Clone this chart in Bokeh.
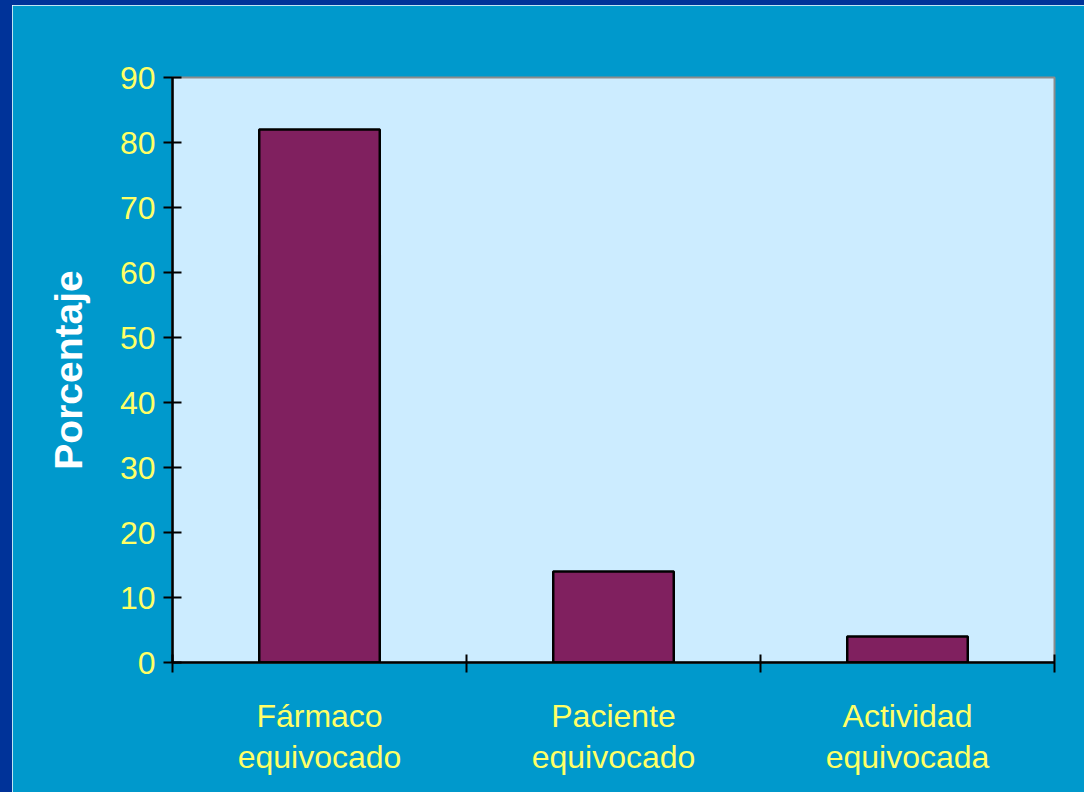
from bokeh.plotting import figure
from bokeh.models import Range1d, FixedTicker, Spacer, ColumnDataSource
from bokeh.layouts import row, column
from bokeh.embed import file_html
from bokeh.resources import INLINE

# Data
categories = ["Fármaco\nequivocado", "Paciente\nequivocado", "Actividad\nequivocada"]
values = [82, 14, 4]
y_ticks = [0, 10, 20, 30, 40, 50, 60, 70, 80, 90]

centers = [i + 0.5 for i in range(len(categories))]
bounds = [float(i) for i in range(len(categories) + 1)]

FONT = "Liberation Sans"
YELLOW = "#FFFF66"

p = figure(width=1072, height=787, output_backend="svg", toolbar_location=None,
           x_range=Range1d(0, len(categories)), y_range=Range1d(0, 90),
           min_border_left=160, min_border_right=30, min_border_top=72, min_border_bottom=130)
p.border_fill_color = "#0099CC"
p.background_fill_color = "#CCECFF"
p.outline_line_color = "#8C8C8C"
p.outline_line_width = 2
p.xgrid.visible = False
p.ygrid.visible = False

src = ColumnDataSource(dict(x=centers, top=values))
p.vbar(x="x", top="top", width=0.41, bottom=0, source=src,
       fill_color="#80205F", line_color="black", line_width=2.5)

# x axis: labels at centres, tick marks at category boundaries
xa = p.xaxis[0]
xa.ticker = FixedTicker(ticks=centers, minor_ticks=bounds)
xa.major_label_overrides = {c: lab for c, lab in zip(centers, categories)}
xa.major_tick_out = 0
xa.major_tick_in = 0
xa.minor_tick_out = 10
xa.minor_tick_in = 8
xa.minor_tick_line_color = "black"
xa.minor_tick_line_width = 2
xa.axis_line_color = "black"
xa.axis_line_width = 2.5
xa.major_label_standoff = 25
xa.major_label_text_font = FONT
xa.major_label_text_font_size = "32px"
xa.major_label_text_color = YELLOW
xa.major_label_text_line_height = 1.15

ya = p.yaxis[0]
ya.ticker = FixedTicker(ticks=y_ticks, minor_ticks=[])
ya.major_tick_out = 9
ya.major_tick_in = 9
ya.major_tick_line_color = "black"
ya.major_tick_line_width = 2
ya.axis_line_color = "black"
ya.axis_line_width = 2.5
ya.major_label_standoff = 8
ya.major_label_text_font = FONT
ya.major_label_text_font_size = "32px"
ya.major_label_text_color = YELLOW
ya.axis_label = "Porcentaje"
ya.axis_label_text_font = FONT
ya.axis_label_text_font_size = "39px"
ya.axis_label_text_font_style = "bold"
ya.axis_label_text_color = "white"
ya.axis_label_standoff = 27

left_bar = Spacer(width=12, height=792, styles={"background-color": "#003399"})
top_bar = Spacer(width=1072, height=5, styles={"background-color": "#003399"})
layout = row(left_bar, column(top_bar, p, spacing=0), spacing=0)

open("out.html", "w").write(file_html(layout, INLINE))
